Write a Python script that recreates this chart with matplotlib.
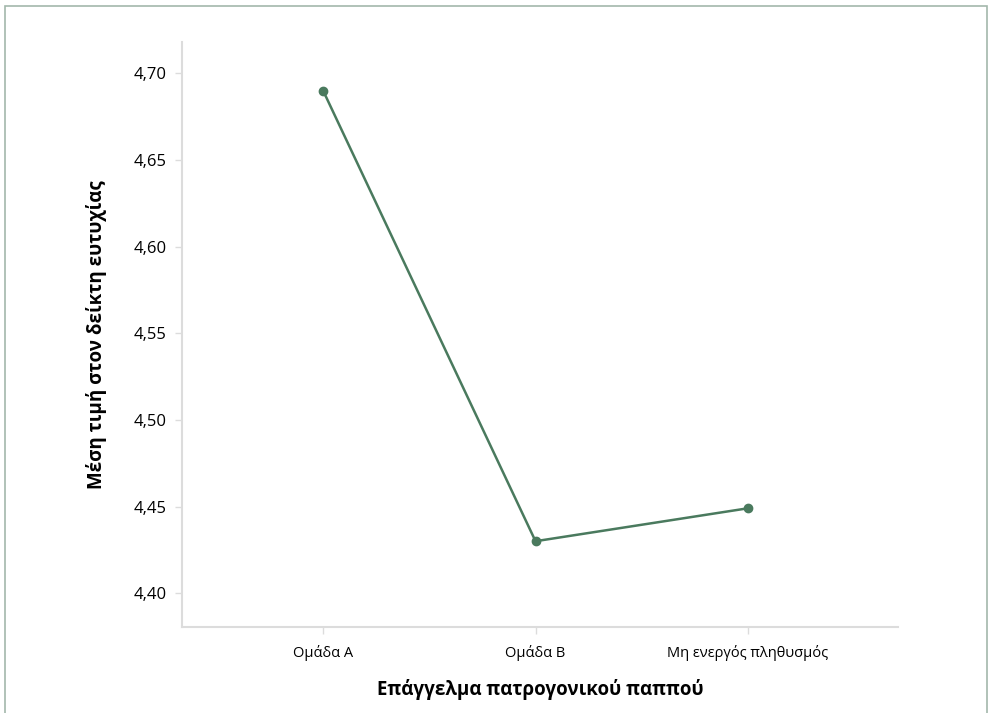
import matplotlib
matplotlib.use("Agg")
import matplotlib.pyplot as plt
from matplotlib.patches import Rectangle
from matplotlib.ticker import FuncFormatter

# data
groups = ["Ομάδα A", "Ομάδα B", "Μη ενεργός πληθυσμός"]
mean_happiness = [4.690, 4.430, 4.449]
y_ticks = [4.40, 4.45, 4.50, 4.55, 4.60, 4.65, 4.70]

line_color = "#4a7a5e"
axis_grey = "#dcdcdc"

plt.rcParams["font.family"] = ["Open Sans", "DejaVu Sans"]

fig = plt.figure(figsize=(9.88, 7.13), dpi=100)
ax = fig.add_axes([0.1842, 0.1206, 0.7247, 0.8205])

x = list(range(len(groups)))
ax.plot(x, mean_happiness, color=line_color, linewidth=1.8,
        marker="o", markersize=6, zorder=3)

ax.set_xlim(-0.664, 2.706)
ax.set_ylim(4.3805, 4.718)
ax.set_xticks(x)
ax.set_xticklabels(groups, fontsize=10.5)
ax.set_yticks(y_ticks)
ax.yaxis.set_major_formatter(FuncFormatter(lambda v, p: f"{v:.2f}".replace(".", ",")))
ax.tick_params(axis="y", labelsize=12, length=5, color=axis_grey, width=1, pad=6)
ax.tick_params(axis="x", length=5, color=axis_grey, width=1, pad=8)

for side in ["top", "right"]:
    ax.spines[side].set_visible(False)
for side in ["left", "bottom"]:
    ax.spines[side].set_color(axis_grey)
    ax.spines[side].set_linewidth(1.5)

ax.set_xlabel("Επάγγελμα πατρογονικού παππού", fontsize=13.5,
              fontweight="bold", labelpad=13)
ax.set_ylabel("Μέση τιμή στον δείκτη ευτυχίας", fontsize=13.5,
              fontweight="bold", labelpad=19)

# thin frame round the figure (bottom edge falls outside)
fig.patches.append(Rectangle((5 / 988, -0.05), 982 / 988, 1.05 - 6 / 713,
                             transform=fig.transFigure, fill=False,
                             edgecolor="#a3b8ab", linewidth=1.2))

fig.savefig("out.png", dpi=100, facecolor="white")
